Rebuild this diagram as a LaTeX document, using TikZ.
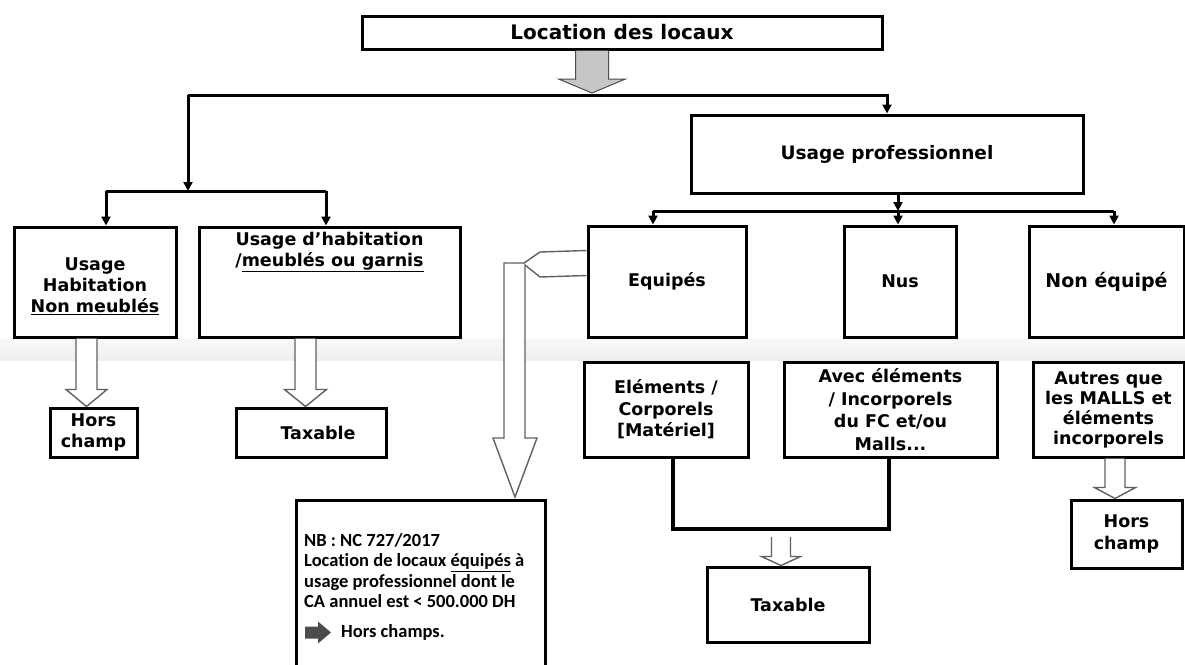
\documentclass[tikz,border=0pt]{standalone}
\usepackage{fontspec}
\setmainfont{DejaVu Sans}
\newfontfamily\calf{Carlito}[Ligatures=NoCommon]
\usetikzlibrary{calc,arrows.meta,shapes.arrows}
\newcommand{\blockarrow}[6][]{%
  \draw[harrow,#1] let \p1=(#2), \p2=(#3) in
    (\x1-#4,\y1) -- (\x1-#4,\y2+#6) -- (\x1-#5,\y2+#6) -- (\x1,\y2)
    -- (\x1+#5,\y2+#6) -- (\x1+#4,\y2+#6) -- (\x1+#4,\y1);}
\begin{document}
\begin{tikzpicture}[x=1pt,y=-1pt,
  box/.style={draw=black, line width=3pt, fill=white, inner sep=0pt, align=center,
    text=black, font=\bfseries\fontsize{17.5}{21.5}\selectfont},
  txt/.style={inner sep=0pt, align=center, text=black, font=\bfseries\fontsize{17.5}{21}\selectfont},
  nbtext/.style={inner sep=0pt, align=left, text=black, font=\calf\bfseries\fontsize{18.5}{20.5}\selectfont},
  conn/.style={line width=3pt, -{Triangle[width=9pt,length=9pt]}},
  ln/.style={line width=3pt},
  uline/.style={line width=3.6pt},
  harrow/.style={draw=gray!75!black, line width=1.4pt, fill=white, line join=miter},
  graytop/.style={fill=gray!45, draw=gray!60!black, line width=1pt}]
\useasboundingbox (0,0) rectangle (1185,664);
\clip (0,0) rectangle (1185,664);
\fill[white] (0,0) rectangle (1185,664);
\shade[top color=gray!5, bottom color=gray!13] (0,338) rectangle (1185,360);

% boxes
\node[box, minimum width=520pt, minimum height=33pt, font=\bfseries\fontsize{20}{24}\selectfont] (title) at (622,32.5) {Location des locaux};
\node[box, minimum width=392pt, minimum height=78pt, font=\bfseries\fontsize{18.5}{22}\selectfont] (up) at (887,154) {Usage professionnel};
\node[box, minimum width=162pt, minimum height=110pt] (hab1) at (95,282) {};
\node[txt] (hab1t) at (95,286) {Usage\\Habitation\\\underline{Non meublés}};
\node[box, minimum width=261pt, minimum height=110pt] (hab2) at (329.5,282) {};
\node[txt] (hab2t) at (329.5,252) {Usage d’habitation\\/\underline{meublés ou garnis}};
\node[box, minimum width=87pt, minimum height=49pt] (hc1) at (93.5,432.5) {Hors\\champ};
\node[box, minimum width=150pt, minimum height=49pt] (tax1) at (311,432.5) {\hspace*{14pt}Taxable};
\node[box, minimum width=158pt, minimum height=111pt] (eq) at (667,281.5) {Equipés};
\node[box, minimum width=112pt, minimum height=111pt] (nus) at (900,281.5) {Nus};
\node[box, minimum width=155pt, minimum height=111pt, font=\bfseries\fontsize{19}{22}\selectfont] (neq) at (1106.5,281.5) {Non équipé};
\node[box, minimum width=164pt, minimum height=95pt] (elm) at (666,409.5) {Eléments /\\Corporels\\{[}Matériel{]}};
\node[box, minimum width=213pt, minimum height=95pt, font=\bfseries\fontsize{17.5}{22.5}\selectfont] (avec) at (890.5,409.5) {Avec éléments\\/ Incorporels\\du FC et/ou\\Malls...};
\node[box, minimum width=151pt, minimum height=95pt, font=\bfseries\fontsize{17.5}{20}\selectfont] (autres) at (1108.5,409.5) {Autres que\\les MALLS et\\éléments\\incorporels};
\node[box, minimum width=111pt, minimum height=68pt] (hc2) at (1126.5,534) {Hors\\champ};
\node[box, minimum width=162pt, minimum height=75pt] (tax2) at (788,604.5) {Taxable};
\node[box, minimum width=249pt, minimum height=170pt] (nb) at (420.5,585) {};
\node[nbtext, anchor=north west] (nbt) at (304,533) {NB : NC 727/2017\\Location de locaux \underline{équipés} à\\usage professionnel dont le\\CA annuel est < 500.000 DH};
\node[nbtext, anchor=west] (hcs) at (341,632) {Hors champs.};
\coordinate (nbarr) at (305,632.5);
\fill[gray!60!black] (nbarr) ++(0,-6) -- ++(13,0) -- ++(0,-5) -- ++(13,11) -- ++(-13,11) -- ++(0,-5) -- ++(-13,0) -- cycle;

% junction coordinates
\coordinate (jl) at (188,95);
\coordinate (jt) at (592,93);
\coordinate (jh) at (188,191);
\coordinate (jh1) at (106,191);
\coordinate (jh2) at (326,191);
\coordinate (jp) at (898,211);
\coordinate (je) at (653,211);
\coordinate (jne) at (1114,211);
\coordinate (ul) at (673,529);
\coordinate (ur) at (889,529);
\coordinate (uarr) at (781,537);

% connectors
\blockarrow[graytop]{$(title.south)+(-30,0)$}{jt}{16.5}{33.5}{14}
\draw[conn] (jl) -| (up.north);
\draw[conn] (jl) -- (jh);
\draw[ln] (jh1) -- (jh2);
\draw[conn] (jh1) -- (jh1 |- hab1.north);
\draw[conn] (jh2) -- (jh2 |- hab2.north);
\draw[conn] (jp |- up.south) -- (jp);
\draw[ln] (je) -- (jne);
\draw[conn] (je) -- (je |- eq.north);
\draw[conn] (jp) -- (jp |- nus.north);
\draw[conn] (jne) -- (jne |- neq.north);
\draw[uline] (ul |- elm.south) -- (ul) -- (ur) -- (ur |- avec.south);

\blockarrow{$(hab1.south)+(-8.5,0)$}{hc1.north}{10.5}{20.5}{17}
\blockarrow{$(hab2.south)+(-24,0)$}{tax1.north}{10.5}{21}{17}
\blockarrow{$(autres.south)+(6.5,0)$}{hc2.north}{10}{20.5}{11}
\blockarrow{uarr}{tax2.north}{9.5}{19.5}{9}

% fork arrow from Equipes to NB
\draw[harrow] ($(eq.north west)+(0,26)$) -- (540,252) -- (524,263) -- (504,263) -- (504,438)
  -- (493,438) -- (515,497) -- (537,438) -- (525,438) -- (525,265) -- (540,277)
  -- ($(eq.north west)+(0,51)$);
\end{tikzpicture}
\end{document}
